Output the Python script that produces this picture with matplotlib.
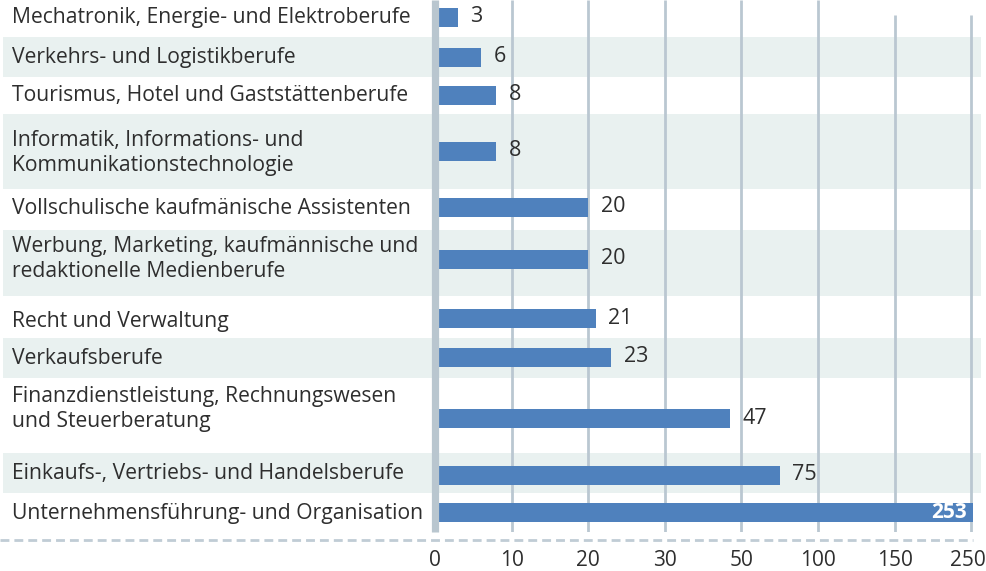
import numpy as np
import matplotlib
matplotlib.use("Agg")
import matplotlib.pyplot as plt
from matplotlib.patches import Rectangle
from matplotlib.transforms import blended_transform_factory, ScaledTranslation

plt.rcParams["font.family"] = ["Open Sans", "DejaVu Sans"]

# Data
categories = [
    "Mechatronik, Energie- und Elektroberufe",
    "Verkehrs- und Logistikberufe",
    "Tourismus, Hotel und Gaststättenberufe",
    "Informatik, Informations- und\nKommunikationstechnologie",
    "Vollschulische kaufmänische Assistenten",
    "Werbung, Marketing, kaufmännische und\nredaktionelle Medienberufe",
    "Recht und Verwaltung",
    "Verkaufsberufe",
    "Finanzdienstleistung, Rechnungswesen\nund Steuerberatung",
    "Einkaufs-, Vertriebs- und Handelsberufe",
    "Unternehmensführung- und Organisation",
]
values = [3, 6, 8, 8, 20, 20, 21, 23, 47, 75, 253]
tick_values = [0, 10, 20, 30, 50, 100, 150, 250]

# Layout (pixels from top, rows have different heights)
row_edges = [0, 37, 77, 114, 189, 230, 296, 338, 378, 453, 493, 532]
bar_y = [17, 57, 95, 151, 207, 259, 318, 357, 418, 475, 512]
text_y = [18, 57, 96, 153, 208, 259, 321, 358, 409, 474, 513]
grid_top = [0, 0, 0, 0, 0, 15, 15]

W, H = 987, 571
bar_color = "#4f81bd"
band_color = "#e9f1f0"
grid_color = "#bac7d1"
text_color = "#2e2e2e"

# axis with equal spacing between the ticks 0,10,20,30,50,100,150,250
idx = np.arange(len(tick_values), dtype=float)


def fwd(x):
    x = np.asarray(x, dtype=float)
    return np.where(x > tick_values[-1], idx[-1] + (x - tick_values[-1]) / 100,
                    np.where(x < 0, x / 10, np.interp(x, tick_values, idx)))


def inv(y):
    y = np.asarray(y, dtype=float)
    return np.where(y > idx[-1], tick_values[-1] + (y - idx[-1]) * 100,
                    np.where(y < 0, y * 10, np.interp(y, idx, tick_values)))


fig = plt.figure(figsize=(W / 100, H / 100), dpi=100)
ax = fig.add_axes([435 / W, (H - 532) / H, 545 / W, 532 / H])
ax.set_xscale("function", functions=(fwd, inv))
ax.set_xlim(0, 261.5)
ax.set_ylim(532, 0)
ax.patch.set_visible(False)
for s in ax.spines.values():
    s.set_visible(False)

# alternating row bands across the whole width
trans = blended_transform_factory(fig.transFigure, ax.transData)
for i in range(len(categories)):
    if i % 2 == 1:
        ax.add_patch(Rectangle((3 / W, row_edges[i]), 978 / W, row_edges[i + 1] - row_edges[i],
                               transform=trans, color=band_color, lw=0, zorder=0, clip_on=False))

ax.vlines(tick_values[1:], grid_top, 532, colors=grid_color, lw=2, zorder=1)
ax.vlines(0, 0, 532, colors="#b9c6cf", lw=5.2, zorder=4, clip_on=False)

ax.barh(bar_y, values, height=19, color=bar_color, zorder=3)

for v, y in zip(values, bar_y):
    if v == max(values):
        ax.annotate(str(v), (v, y), xytext=(-5, 0), textcoords="offset points",
                    ha="right", va="center", color="white", fontweight="bold", fontsize=15, zorder=5)
    else:
        ax.annotate(str(v), (v, y), xytext=(9, 0), textcoords="offset points",
                    ha="left", va="center", color=text_color, fontsize=15.5, zorder=5)

for lab, y in zip(categories, text_y):
    ax.text(12 / W, y, lab, transform=trans, ha="left", va="center",
            fontsize=15.2, color=text_color, linespacing=1.25)

ax.set_xticks(tick_values)
ax.set_xticklabels([str(t) for t in tick_values])
ax.tick_params(axis="x", length=0, pad=13, labelsize=15, labelcolor=text_color)
ax.set_yticks([])
ax.minorticks_off()
# keep the last label inside the picture
last = ax.get_xticklabels()[-1]
last.set_transform(last.get_transform() + ScaledTranslation(-3 / 100, 0, fig.dpi_scale_trans))

ax.plot([-435 / 545, 538 / 545], [540, 540], transform=ax.get_yaxis_transform(),
        color="#c0ccd5", lw=2, ls=(0, (3.2, 1.8)), clip_on=False)

fig.savefig("out.png", dpi=100)
